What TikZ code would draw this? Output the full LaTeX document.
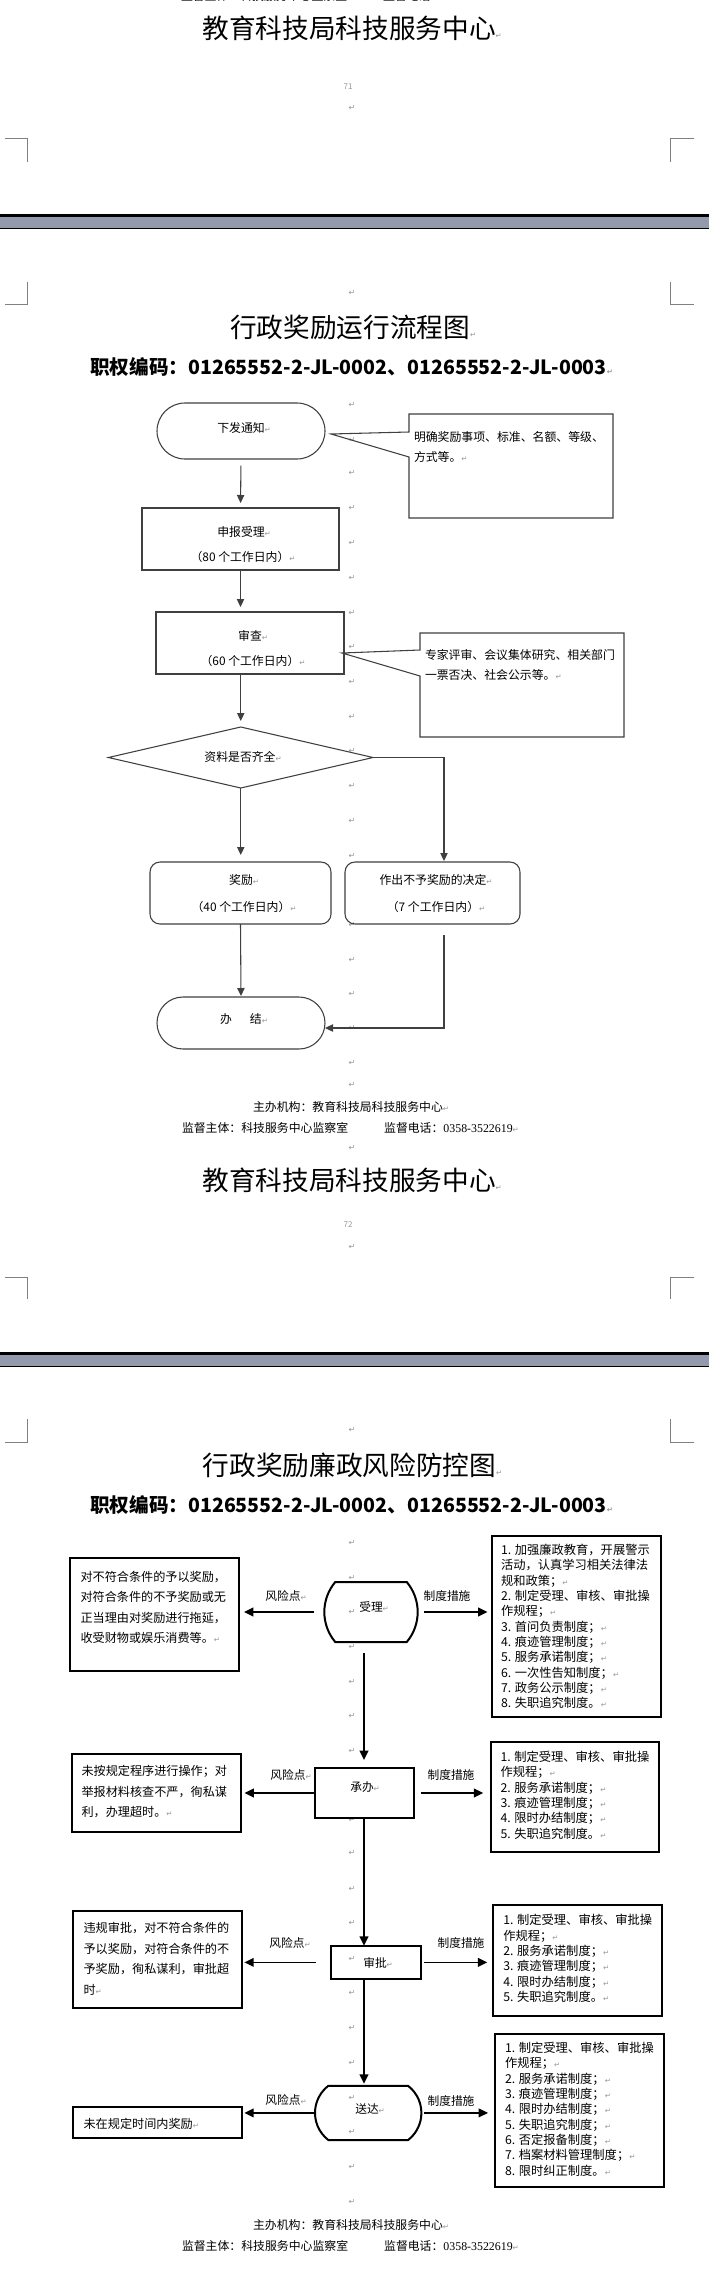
\documentclass[tikz,border=0pt]{standalone}
\usepackage{fontspec}
\setmainfont{Noto Sans CJK SC}
\newfontfamily\djv{DejaVu Sans}
\newfontfamily\tms{Liberation Serif}
\usetikzlibrary{arrows.meta,shapes.geometric,shapes.misc,fit}
\definecolor{retc}{RGB}{150,150,150}
\definecolor{band}{RGB}{147,154,172}
\definecolor{ln}{RGB}{64,64,64}
\definecolor{cornc}{RGB}{128,128,128}
\newcommand\rt{\rlap{\djv\fontsize{5.5}{6}\selectfont\textcolor{retc}{↵}}}
\begin{document}
\begin{tikzpicture}[x=0.75pt,y=-0.75pt,
 every node/.style={inner sep=0pt,outer sep=0pt},
 big/.style={font=\fontsize{20}{24}\selectfont},
 code/.style={font=\bfseries\fontsize{14.7}{18}\selectfont},
 txt/.style={font=\fontsize{8.9}{15}\selectfont},
 txa/.style={font=\fontsize{8.9}{15}\selectfont, align=left, anchor=west},
 txb/.style={font=\fontsize{9.2}{11.5}\selectfont, align=left, anchor=west},
 txc/.style={font=\fontsize{9.1}{15.4}\selectfont, align=left, anchor=west},
 lab/.style={font=\fontsize{8.8}{11}\selectfont},
 retm/.style={font=\djv\fontsize{6}{6}\selectfont, text=retc},
 pgn/.style={font=\fontsize{6}{6}\selectfont, text=retc},
 f1/.style={draw=ln, line width=0.8pt},
 f2/.style={draw=black, line width=1.5pt},
 arr1/.style={draw=ln, line width=0.8pt, -{Triangle[length=6pt,width=5.5pt]}},
 arr2/.style={draw=black, line width=1.2pt, -{Triangle[length=7pt,width=6.5pt]}},
 corner/.style={draw=cornc, line width=0.6pt}
]
\useasboundingbox (0,0) rectangle (709,2273);
\fill[white] (0,0) rectangle (709,2273);

% ---------- page 1 fragment ----------
\node[txt, anchor=west] (topcut) at (181,-4) {监督主体：科技服务中心监察室\hspace{27pt}监督电话：};
\node[big] (hdr1) at (349,28.5) {教育科技局科技服务中心\rt};
\node[pgn] (pg1) at (348,87) {71};
\draw[corner] (4.5,138) -- (27.6,138) -- (27.6,162);
\draw[corner] (694,138) -- (670,138) -- (670,162);
\fill[black] (0,214.3) rectangle (709,216.7);
\fill[band] (0,216.7) rectangle (709,228);
\draw[black, line width=0.75pt] (0,228.3) -- (709,228.3);

% ---------- page 2 ----------
\draw[corner] (27.6,282) -- (27.6,304) -- (4.5,304);
\draw[corner] (670,282) -- (670,304) -- (694,304);
\node[big] (title1) at (350,327) {行政奖励运行流程图\rt};
\node[code] (code1) at (348.5,367) {职权编码：01265552-2-JL-0002、01265552-2-JL-0003\rt};

\foreach \yy [count=\i] in {108,293,405,440,473.3,508.3,543.3,578.3,612.7,646.7,681.7,716.7,750.7,786,820.7,856,925,960,994.3,1028.3,1063.3,1085,1148.3,1247,1430,1542.7,1578,1611.7,1646.7,1681.7,1716,1750.7,1820,1853.3,1889.3,1922.7,1959,1993.3,2027.7,2062.7,2098.3,2131.7,2166.7,2201.7}
  \node[retm] (rm\i) at (352,\yy) {↵};

% start
\node[rounded rectangle, f1, minimum width=126pt, minimum height=42pt] (start) at (241,431) {};
\node[txt] (tstart) at (241,428) {下发通知\rt};
% callout 1
\node[fit={(409,414) (613,518)}] (cb1) {};
\draw[f1] (331,434) -- (409,432) -- (cb1.west |- 0,414) -- (cb1.north east) -- (cb1.south east) -- (cb1.south west) -- (409,457) -- cycle;
\node[txa] (tcb1) at (414,447) {明确奖励事项、标准、名额、等级、\\方式等。\rt};
% 申报受理
\node[f1, fit={(142,508) (339,570)}] (b1) {};
\node[txt] (tb1a) at (241,532) {申报受理\rt};
\node[txt] (tb1b) at (240,557) {（80 个工作日内）\rt};
% 审查
\node[f1, fit={(156,612) (344,674)}] (b2) {};
\node[txt] (tb2a) at (250,636) {审查\rt};
\node[txt] (tb2b) at (250,661) {（60 个工作日内）\rt};
% callout 2
\node[fit={(420,633) (624,737)}] (cb2) {};
\draw[f1] (342,653) -- (420,650) -- (cb2.north west) -- (cb2.north east) -- (cb2.south east) -- (cb2.south west) -- (420,676) -- cycle;
\node[txa] (tcb2) at (425,665) {专家评审、会议集体研究、相关部门\\一票否决、社会公示等。\rt};
% diamond
\node[diamond, f1, minimum width=198.4pt, minimum height=45.75pt] (dia) at (240.75,757.5) {};
\node[txt] (tdia) at (240,757) {资料是否齐全\rt};
% 奖励 / 不予
\node[f1, rounded corners=7.5pt, fit={(150,862) (331,924)}] (b3) {};
\node[txt] (tb3a) at (241,880) {奖励\rt};
\node[txt] (tb3b) at (241,907) {（40 个工作日内）\rt};
\node[f1, rounded corners=7.5pt, fit={(345,862) (520,924)}] (b4) {};
\node[txt] (tb4a) at (433,880) {作出不予奖励的决定\rt};
\node[txt] (tb4b) at (433,907) {（7 个工作日内）\rt};
% 办结
\node[rounded rectangle, f1, minimum width=126pt, minimum height=39pt] (end) at (241,1023) {};
\node[txt] (tend) at (241,1019) {办\hspace{1.5em}结\rt};

% connectors page 2
\coordinate (rx) at (444,0);
\coordinate (ay) at (0,1028);
\draw[arr1, shorten <=5pt, shorten >=3.75pt] (start.south) -- (b1.north);
\draw[arr1, shorten >=3.75pt] (b1.south) -- (b1.south |- b2.north);
\draw[arr1, shorten >=4.5pt] (dia.north |- b2.south) -- (dia.north);
\draw[arr1, shorten >=5.25pt] (dia.south) -- (dia.south |- b3.north);
\draw[arr1, shorten >=0.75pt] (dia.east) -| (rx |- b4.north);
\draw[arr1, shorten >=0.75pt] (b3.south) -- (end.north);
\draw[arr1, shorten <=8.25pt] (rx |- b4.south) -- (rx |- ay) -- (end.east |- ay);

\node[txt] (own1) at (348,1107) {主办机构：教育科技局科技服务中心\rt};
\node[txt, anchor=west] (sup1) at (182,1128) {监督主体：科技服务中心监察室\hspace{27pt}监督电话：{\tms 0358-3522619}\rt};
\node[big] (hdr2) at (349,1180) {教育科技局科技服务中心\rt};
\node[pgn] (pg2) at (348,1225) {72};
\draw[corner] (4.5,1277) -- (27.6,1277) -- (27.6,1299);
\draw[corner] (694,1277) -- (670,1277) -- (670,1299);
\fill[black] (0,1352.3) rectangle (709,1354.7);
\fill[band] (0,1354.7) rectangle (709,1365.7);
\draw[black, line width=0.75pt] (0,1366) -- (709,1366);

% ---------- page 3 ----------
\draw[corner] (27.6,1419) -- (27.6,1442) -- (4.5,1442);
\draw[corner] (670,1419) -- (670,1442) -- (694,1442);
\node[big] (title2) at (349.5,1465) {行政奖励廉政风险防控图\rt};
\node[code] (code2) at (348.5,1505) {职权编码：01265552-2-JL-0002、01265552-2-JL-0003\rt};

% process nodes
\node[rounded rectangle, rounded rectangle arc length=80, f2, minimum width=69pt, minimum height=45pt] (n1) at (371,1612) {};
\node[lab] (tn1) at (371,1607) {受理\rt};
\node[f2, fit={(315,1768) (414,1818)}] (n2) {};
\node[lab] (tn2) at (362,1787) {承办\rt};
\node[f2, fit={(330.5,1945.7) (421.4,1979)}] (n3) {};
\node[lab] (tn3) at (375,1963) {审批\rt};
\node[rounded rectangle, rounded rectangle arc length=105, f2, minimum width=79.8pt, minimum height=40.7pt] (n4) at (368.2,2112.9) {};
\node[lab] (tn4) at (367,2109) {送达\rt};

% risk boxes
\node[f2, fit={(70,1558) (239,1671)}] (L1) {};
\node[txc] (tL1) at (80.5,1607.5) {对不符合条件的予以奖励，\\对符合条件的不予奖励或无\\正当理由对奖励进行拖延，\\收受财物或娱乐消费等。\rt};
\node[f2, fit={(71.5,1754) (240.5,1832)}] (L2) {};
\node[txc] (tL2) at (81.5,1791.5) {未按规定程序进行操作；对\\举报材料核查不严，徇私谋\\利，办理超时。\rt};
\node[f2, fit={(72.8,1910.7) (242.4,2007.7)}] (L3) {};
\node[txc] (tL3) at (83.6,1958.8) {违规审批，对不符合条件的\\予以奖励，对符合条件的不\\予奖励，徇私谋利，审批超\\时\rt};
\node[f2, fit={(72.8,2107.3) (242.4,2138.3)}] (L4) {};
\node[txc] (tL4) at (83.6,2123.5) {未在规定时间内奖励\rt};

% measure boxes
\node[f2, fit={(491.5,1535.7) (660.6,1717)}] (R1) {};
\node[txb] (tR1) at (501,1626.5) {1. 加强廉政教育，开展警示\\活动，认真学习相关法律法\\规和政策；\rt\\2. 制定受理、审核、审批操\\作规程；\rt\\3. 首问负责制度；\rt\\4. 痕迹管理制度；\rt\\5. 服务承诺制度；\rt\\6. 一次性告知制度；\rt\\7. 政务公示制度；\rt\\8. 失职追究制度。\rt};
\node[f2, fit={(490.6,1742) (659.3,1852)}] (R2) {};
\node[txb] (tR2) at (500.5,1795) {1. 制定受理、审核、审批操\\作规程；\rt\\2. 服务承诺制度；\rt\\3. 痕迹管理制度；\rt\\4. 限时办结制度；\rt\\5. 失职追究制度。\rt};
\node[f2, fit={(493.3,1905) (662.4,2015.7)}] (R3) {};
\node[txb] (tR3) at (503.3,1958.3) {1. 制定受理、审核、审批操\\作规程；\rt\\2. 服务承诺制度；\rt\\3. 痕迹管理制度；\rt\\4. 限时办结制度；\rt\\5. 失职追究制度。\rt};
\node[f2, fit={(494.7,2034) (663.8,2187.3)}] (R4) {};
\node[txb] (tR4) at (505,2109.2) {1. 制定受理、审核、审批操\\作规程；\rt\\2. 服务承诺制度；\rt\\3. 痕迹管理制度；\rt\\4. 限时办结制度；\rt\\5. 失职追究制度；\rt\\6. 否定报备制度；\rt\\7. 档案材料管理制度；\rt\\8. 限时纠正制度。\rt};

% labels
\node[lab] (rk1) at (283,1596) {风险点\rt};
\node[lab] (ms1) at (447,1596) {制度措施};
\node[lab] (rk2) at (288,1775) {风险点\rt};
\node[lab] (ms2) at (451,1775) {制度措施};
\node[lab] (rk3) at (287,1943) {风险点\rt};
\node[lab] (ms3) at (461,1943) {制度措施};
\node[lab] (rk4) at (283,2100) {风险点\rt};
\node[lab] (ms4) at (451,2100.7) {制度措施};

% connectors page 3
\coordinate (mx) at (364,0);
\draw[arr2, line width=1.4pt, shorten <=8.25pt, shorten >=6pt] (mx |- n1.south) -- (mx |- n2.north);
\draw[arr2, line width=1.4pt] (mx |- n2.south) -- (mx |- n3.north);
\draw[arr2, line width=1.4pt, shorten >=1.5pt] (mx |- n3.south) -- (mx |- n4.north);
\draw[arr2, shorten <=7.5pt, shorten >=3.75pt] (n1.west) -- (n1.west -| L1.east);
\draw[arr2, shorten >=3pt] (n2.west) -- (n2.west -| L2.east);
\draw[arr2, shorten <=11pt, shorten >=1.5pt] (n3.west) -- (n3.west -| L3.east);
\draw[arr2, shorten >=1.5pt] (n4.west) -- (n4.west -| L4.east);
\draw[arr2, shorten <=5pt, shorten >=3pt] (n1.east) -- (n1.east -| R1.west);
\draw[arr2, shorten <=5pt, shorten >=5.5pt] (n2.east) -- (n2.east -| R2.west);
\draw[arr2, shorten <=2pt, shorten >=4.5pt] (n3.east) -- (n3.east -| R3.west);
\draw[arr2, shorten <=2pt, shorten >=5pt] (n4.east) -- (n4.east -| R4.west);

\node[txt] (own2) at (348,2225) {主办机构：教育科技局科技服务中心\rt};
\node[txt, anchor=west] (sup2) at (182,2245.7) {监督主体：科技服务中心监察室\hspace{27pt}监督电话：{\tms 0358-3522619}\rt};
\end{tikzpicture}
\end{document}
